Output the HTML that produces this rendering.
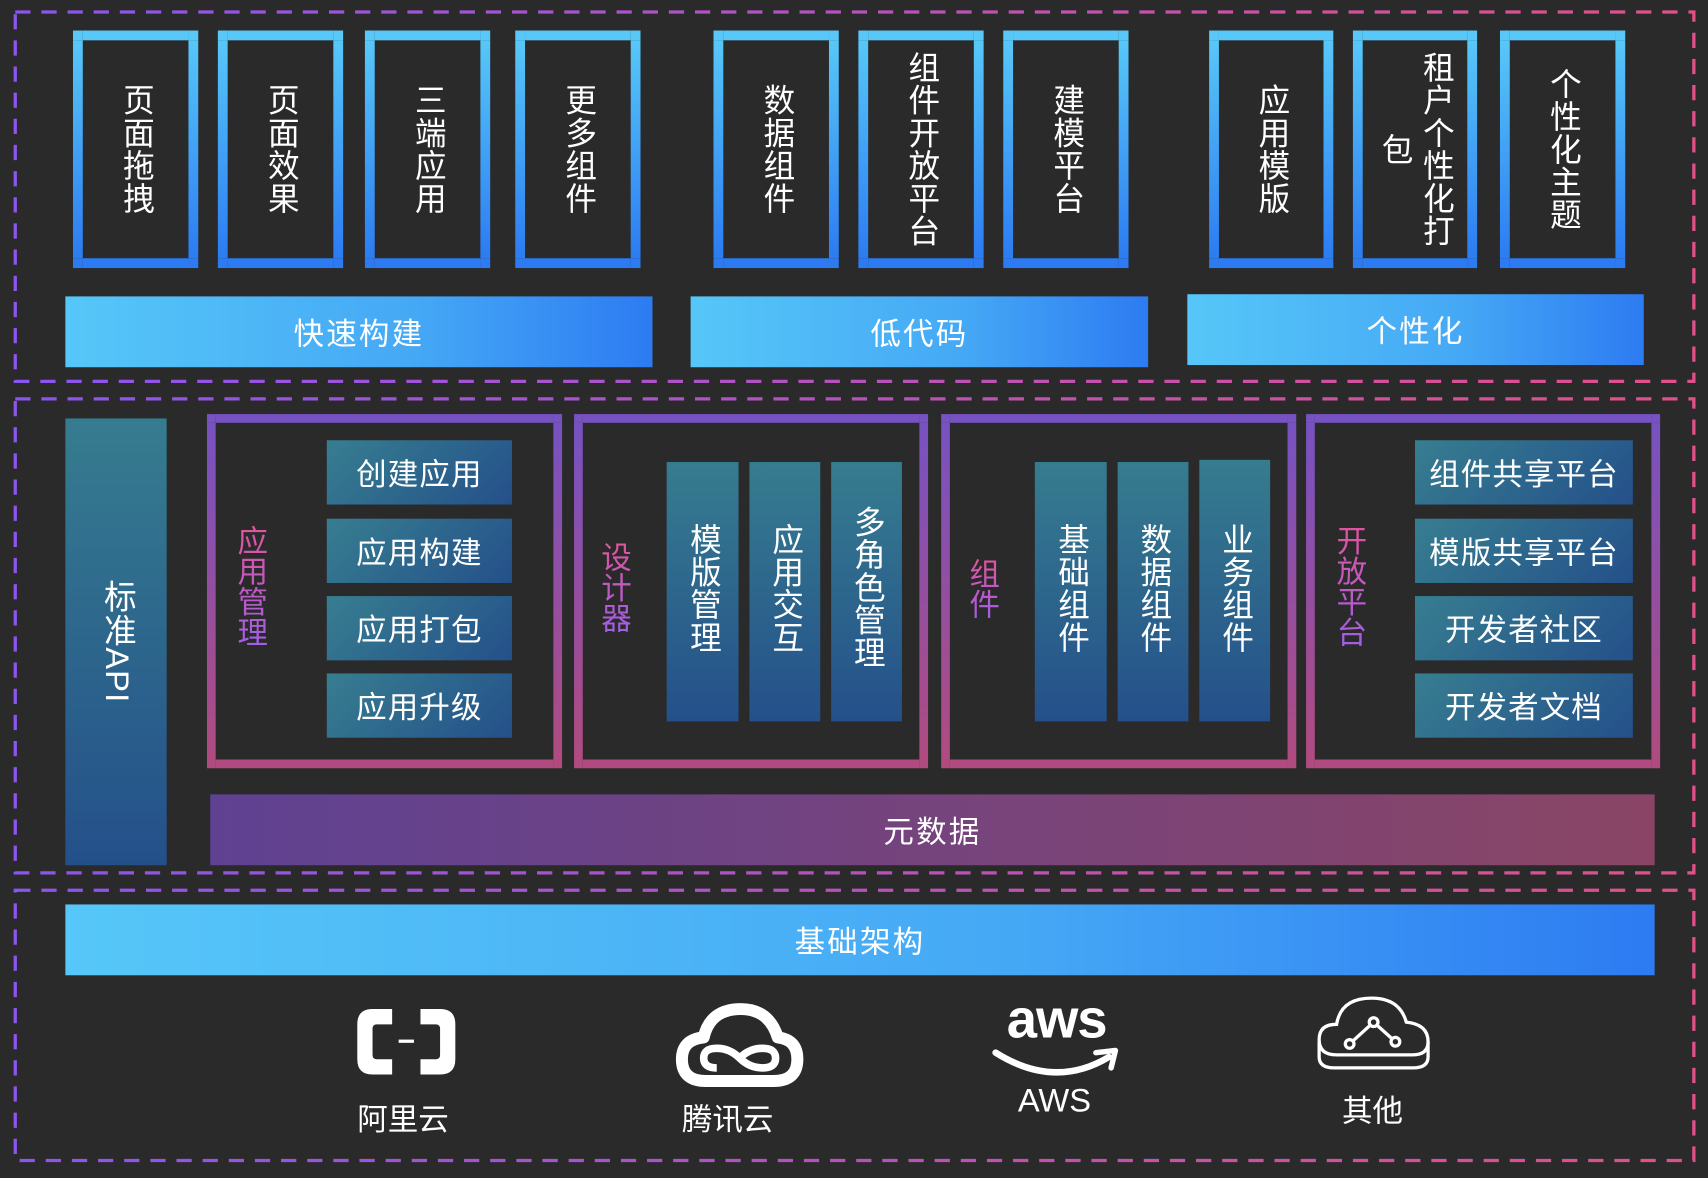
<!DOCTYPE html>
<html><head><meta charset="utf-8"><style>
html,body{margin:0;padding:0;background:#2a2a2a;}
body{width:1708px;height:1178px;overflow:hidden;position:relative;font-family:"Liberation Sans","Noto Sans CJK SC",sans-serif;color:#fff;}
#w{position:absolute;left:0;top:0;width:1568px;height:1081px;transform:scale(1.0893,1.0897);transform-origin:0 0;}
.a{position:absolute;box-sizing:border-box;}
.tb{border:9px solid;border-image:linear-gradient(#57c8f8,#2c7bf2) 1;display:flex;align-items:center;justify-content:center;}
.v{writing-mode:vertical-rl;font-size:29px;line-height:32px;letter-spacing:1px;}
.bar{background:linear-gradient(90deg,#56c7f8,#45a8f5 60%,#2d7bf2);display:flex;align-items:center;justify-content:center;font-size:28px;letter-spacing:2px;}
.fr{border:8px solid;border-image:linear-gradient(#7752c2,#b04b80) 1;}
.it{background:linear-gradient(135deg,#377e90,#24508a);display:flex;align-items:center;justify-content:center;font-size:28px;letter-spacing:1px;}
.col{background:linear-gradient(#367c8f,#24508a);display:flex;align-items:center;justify-content:center;}
.lab{writing-mode:vertical-rl;font-size:28px;line-height:30px;background:linear-gradient(#e0559b,#a05ee8);-webkit-background-clip:text;background-clip:text;color:transparent;}
.cap{font-size:28px;text-align:center;}
</style></head><body><div id="w">
<svg class="a" style="left:0;top:0" width="1568" height="1081">
<defs><linearGradient id="d" x1="0" x2="1"><stop offset="0" stop-color="#8b55f0"/><stop offset="1" stop-color="#e2508a"/></linearGradient></defs>
<g fill="none" stroke="url(#d)" stroke-width="3" stroke-dasharray="14 10">
<rect x="14" y="11" width="1541" height="339"/>
<rect x="14" y="366" width="1541" height="435"/>
<rect x="14" y="817" width="1541" height="248"/>
</g></svg>

<div class="a tb" style="left:67px;top:28px;width:115px;height:218px"><span class="v">页面拖拽</span></div>
<div class="a tb" style="left:200px;top:28px;width:115px;height:218px"><span class="v">页面效果</span></div>
<div class="a tb" style="left:335px;top:28px;width:115px;height:218px"><span class="v">三端应用</span></div>
<div class="a tb" style="left:473px;top:28px;width:115px;height:218px"><span class="v">更多组件</span></div>
<div class="a tb" style="left:655px;top:28px;width:115px;height:218px"><span class="v">数据组件</span></div>
<div class="a tb" style="left:788px;top:28px;width:115px;height:218px"><span class="v">组件开放平台</span></div>
<div class="a tb" style="left:921px;top:28px;width:115px;height:218px"><span class="v">建模平台</span></div>
<div class="a tb" style="left:1110px;top:28px;width:114px;height:218px"><span class="v">应用模版</span></div>
<div class="a tb" style="left:1242px;top:28px;width:114px;height:218px"><span class="v" style="height:190px;text-align:center;line-height:38px">租户个性化打包</span></div>
<div class="a tb" style="left:1377px;top:28px;width:115px;height:218px"><span class="v">个性化主题</span></div>

<div class="a bar" style="left:60px;top:272px;width:539px;height:65px">快速构建</div>
<div class="a bar" style="left:634px;top:272px;width:420px;height:65px">低代码</div>
<div class="a bar" style="left:1090px;top:270px;width:419px;height:65px">个性化</div>

<div class="a col" style="left:60px;top:384px;width:93px;height:410px"><span class="v" style="font-size:30px">标准API</span></div>

<div class="a fr" style="left:190px;top:380px;width:326px;height:325px"></div>
<div class="a fr" style="left:527px;top:380px;width:325px;height:325px"></div>
<div class="a fr" style="left:864px;top:380px;width:326px;height:325px"></div>
<div class="a fr" style="left:1199px;top:380px;width:325px;height:325px"></div>

<div class="a lab" style="left:215px;top:482px">应用管理</div>
<div class="a lab" style="left:549px;top:497px">设计器</div>
<div class="a lab" style="left:887px;top:512px">组件</div>
<div class="a lab" style="left:1224px;top:482px">开放平台</div>

<div class="a it" style="left:300px;top:404px;width:170px;height:59px">创建应用</div>
<div class="a it" style="left:300px;top:476px;width:170px;height:59px">应用构建</div>
<div class="a it" style="left:300px;top:547px;width:170px;height:59px">应用打包</div>
<div class="a it" style="left:300px;top:618px;width:170px;height:59px">应用升级</div>

<div class="a it" style="left:1299px;top:404px;width:200px;height:59px">组件共享平台</div>
<div class="a it" style="left:1299px;top:476px;width:200px;height:59px">模版共享平台</div>
<div class="a it" style="left:1299px;top:547px;width:200px;height:59px">开发者社区</div>
<div class="a it" style="left:1299px;top:618px;width:200px;height:59px">开发者文档</div>

<div class="a col" style="left:612px;top:424px;width:66px;height:238px;align-items:flex-start;padding-top:56px"><span class="v">模版管理</span></div>
<div class="a col" style="left:688px;top:424px;width:65px;height:238px;align-items:flex-start;padding-top:56px"><span class="v">应用交互</span></div>
<div class="a col" style="left:763px;top:424px;width:65px;height:238px;align-items:flex-start;padding-top:40px"><span class="v">多角色管理</span></div>
<div class="a col" style="left:950px;top:424px;width:66px;height:238px;align-items:flex-start;padding-top:56px"><span class="v">基础组件</span></div>
<div class="a col" style="left:1026px;top:424px;width:65px;height:238px;align-items:flex-start;padding-top:56px"><span class="v">数据组件</span></div>
<div class="a col" style="left:1101px;top:422px;width:65px;height:240px;align-items:flex-start;padding-top:58px"><span class="v">业务组件</span></div>

<div class="a" style="left:193px;top:729px;width:1326px;height:65px;background:linear-gradient(90deg,#5f4192,#7a4478 60%,#8a4565);display:flex;align-items:center;justify-content:center;font-size:28px;letter-spacing:2px">元数据</div>

<div class="a bar" style="left:60px;top:830px;width:1459px;height:65px">基础架构</div>

<svg class="a" style="left:320px;top:920px" width="110" height="72" viewBox="0 0 110 72">
<path d="M40 6 H22 Q8 6 8 20 V52 Q8 66 22 66 H40 V52 H26 Q22 52 22 48 V24 Q22 20 26 20 H40 Z" fill="#fff"/>
<path d="M66 6 H84 Q98 6 98 20 V52 Q98 66 84 66 H66 V52 H80 Q84 52 84 48 V24 Q84 20 80 20 H66 Z" fill="#fff"/>
<rect x="46" y="34" width="14" height="3" fill="#fff"/></svg>
<div class="a cap" style="left:305px;top:1006px;width:130px">阿里云</div>

<svg class="a" style="left:618px;top:918px" width="122" height="84" viewBox="0 0 122 84">
<path d="M30 74 Q8 74 8 54 Q8 36 28 34 Q34 8 62 8 Q88 8 96 34 Q114 36 114 54 Q114 74 92 74 Z" fill="none" stroke="#fff" stroke-width="11" stroke-linejoin="round"/>
<path d="M40 62 Q28 62 28 53 Q28 44 40 44 Q52 44 61 53 Q70 62 82 62 Q94 62 94 53 Q94 44 82 44 Q70 44 61 53" fill="none" stroke="#fff" stroke-width="7"/></svg>
<div class="a cap" style="left:603px;top:1006px;width:130px">腾讯云</div>

<div class="a" style="left:905px;top:905px;width:130px;text-align:center;font-size:50px;font-weight:bold;letter-spacing:-1px;line-height:60px">aws</div>
<svg class="a" style="left:910px;top:960px" width="120" height="36" viewBox="0 0 120 36">
<path d="M4 6 Q58 40 108 10" fill="none" stroke="#fff" stroke-width="6" stroke-linecap="round"/>
<path d="M96 6 L114 4 L110 20" fill="none" stroke="#fff" stroke-width="5" stroke-linecap="round" stroke-linejoin="round"/></svg>
<div class="a cap" style="left:903px;top:994px;width:130px;font-size:30px">AWS</div>

<svg class="a" style="left:1205px;top:910px" width="112" height="80" viewBox="0 0 112 80">
<path d="M22 58 Q6 58 6 44 Q6 30 22 30 Q26 6 54 6 Q80 6 86 28 Q106 30 106 46 Q106 58 92 58 Z" fill="none" stroke="#fff" stroke-width="3"/>
<path d="M6 46 V60 Q6 70 20 70 H92 Q106 70 106 60 V46" fill="none" stroke="#fff" stroke-width="3"/>
<path d="M34 48 L56 28 L76 46" fill="none" stroke="#fff" stroke-width="3"/>
<circle cx="34" cy="48" r="4" fill="#2a2a2a" stroke="#fff" stroke-width="3"/><circle cx="56" cy="28" r="4" fill="#2a2a2a" stroke="#fff" stroke-width="3"/><circle cx="76" cy="46" r="4" fill="#2a2a2a" stroke="#fff" stroke-width="3"/></svg>
<div class="a cap" style="left:1195px;top:998px;width:130px">其他</div>
</div></body></html>
